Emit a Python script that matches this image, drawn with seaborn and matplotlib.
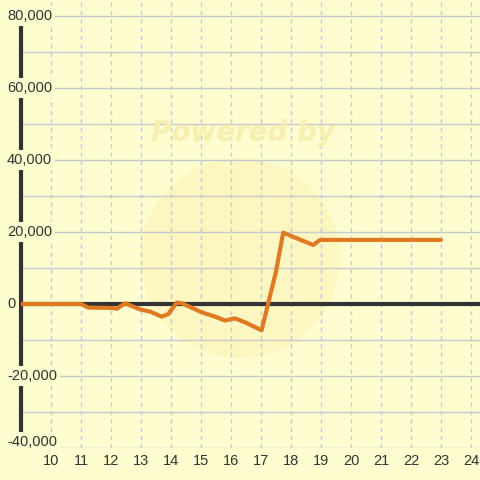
import numpy as np
import pandas as pd
import seaborn as sns
from matplotlib import pyplot as plt
from matplotlib.patches import Circle
from matplotlib.transforms import ScaledTranslation

# data
hours  = [9.0, 11.0, 11.25, 12.0, 12.2, 12.47, 12.97, 13.3, 13.69, 13.91,
          14.19, 14.36, 14.63, 14.97, 15.13, 15.47, 15.8, 16.13, 16.47,
          17.02, 17.5, 17.74, 18.74, 18.97, 23.0]
values = [0, 0, -1000, -1100, -1300, 200, -1500, -2100, -3500, -2800,
          400, 200, -800, -2100, -2600, -3500, -4600, -4000, -5100,
          -7300, 9000, 19800, 16400, 17800, 17800]
y_ticks  = [-40000, -20000, 0, 20000, 40000, 60000, 80000]
y_minor  = [-30000, -10000, 10000, 30000, 50000, 70000]
x_ticks  = list(range(10, 25))

df = pd.DataFrame({'hour': hours, 'value': values})

# colours
bg_color    = '#fdfdd0'
grid_color  = '#c8c8cf'
text_color  = '#333333'
line_color  = '#df7a22'

sns.set_style('white')
plt.rcParams['font.family'] = ['Liberation Sans', 'DejaVu Sans']

fig = plt.figure(figsize=(4.8, 4.8), dpi=100, facecolor=bg_color)
ax  = fig.add_axes([21/480, 32/480, 459/480, 448/480], facecolor=bg_color)

# watermark
ax.add_patch(Circle((240/480, 1 - 258/480), 100/480, transform=fig.transFigure,
                    facecolor='#fbf0a8', alpha=0.4, edgecolor='none', zorder=0.5))
fig.text(243/480, 1 - 133/480, 'Powered by', fontsize=20, fontweight='bold',
         fontstyle='italic', family='DejaVu Sans', color='#f7efb0',
         ha='center', va='center', zorder=0.6)

# grid
for v in y_ticks + y_minor:
    ax.axhline(v, color=grid_color, linewidth=1, zorder=1)
for v in x_ticks:
    ax.axvline(v, color=grid_color, linewidth=1, linestyle=(0, (3, 3)), zorder=1)
ax.axhline(0, color=text_color, linewidth=3, zorder=2.8)

# the series
sns.lineplot(data=df, x='hour', y='value', ax=ax, color=line_color,
             linewidth=3, zorder=3)

ax.set_xlim(9, 24.3)
ax.set_ylim(-40000, 84444)
ax.set_xlabel('')
ax.set_ylabel('')

# spines
for side in ['top', 'right', 'bottom']:
    ax.spines[side].set_visible(False)
ax.spines['left'].set_color(text_color)
ax.spines['left'].set_linewidth(3)
ax.spines['left'].set_bounds(-40000, 80000)
ax.spines['left'].set_zorder(2.5)

# x tick labels
ax.set_xticks(x_ticks)
ax.set_xticklabels([str(v) for v in x_ticks], fontsize=10.5, color=text_color)
ax.tick_params(axis='x', length=0, pad=4.5)

# y tick labels sit on top of the spine
ax.set_yticks([])
ytrans = ax.get_yaxis_transform()
for v in y_ticks:
    trans = ytrans
    if v == y_ticks[0]:
        trans = ytrans + ScaledTranslation(0, 6/100, fig.dpi_scale_trans)
    ax.text(-14/459, v, '{:,}'.format(v), transform=trans, ha='left', va='center',
            fontsize=10.5, color=text_color, zorder=4, clip_on=False,
            bbox=dict(facecolor=bg_color, edgecolor='none', pad=2))

plt.savefig('out.png', dpi=100, facecolor=bg_color)
